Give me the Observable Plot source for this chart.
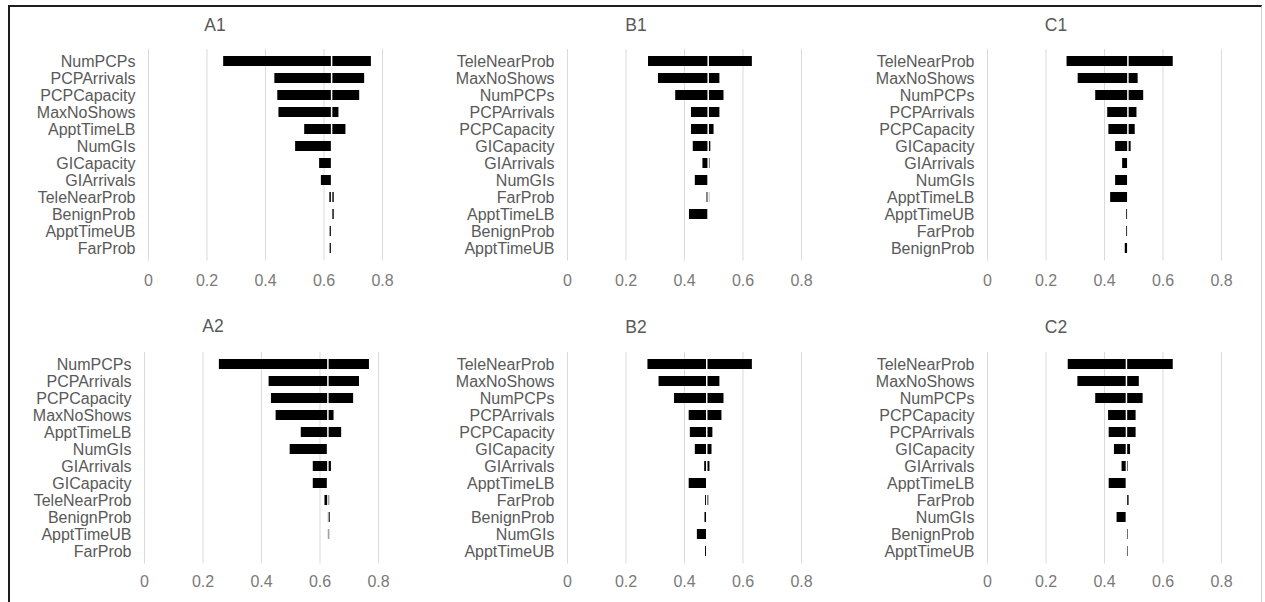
<!DOCTYPE html>
<html>
<head>
<meta charset="utf-8">
<script src="https://cdn.jsdelivr.net/npm/d3@7"></script>
<script src="https://cdn.jsdelivr.net/npm/@observablehq/plot@0.6"></script>
<style>
  html, body { margin: 0; padding: 0; background: #fff; }
  body { width: 1265px; height: 602px; position: relative; overflow: hidden; font-family: "Liberation Sans", Arial, sans-serif; }
  #frame { position: absolute; left: 8px; top: 5px; width: 1254px; height: 610px; border-left: 2px solid #1e1e1e; border-top: 2px solid #1e1e1e; border-right: 1px solid #cfcfcf; box-sizing: border-box; }
  .panel { position: absolute; }
  .title { position: absolute; width: 120px; text-align: center; font-size: 17.5px; line-height: 17px; color: #595959; }
</style>
</head>
<body>
<div id="frame"></div>
<script>
// ---- Data ----
const xTicks = [0, 0.2, 0.4, 0.6, 0.8];
const xTickLabels = ["0", "0.2", "0.4", "0.6", "0.8"];

const a1Title = "A1";
const a1Cats = ["NumPCPs", "PCPArrivals", "PCPCapacity", "MaxNoShows", "ApptTimeLB", "NumGIs", "GICapacity", "GIArrivals", "TeleNearProb", "BenignProb", "ApptTimeUB", "FarProb"];
const a1Low  = [0.257, 0.432, 0.442, 0.446, 0.534, 0.503, 0.585, 0.591, 0.620, 0.626, 0.621, 0.621];
const a1High = [0.762, 0.739, 0.722, 0.651, 0.675, 0.626, 0.626, 0.626, 0.635, 0.635, 0.628, 0.628];
const a1Base = 0.626;

const b1Title = "B1";
const b1Cats = ["TeleNearProb", "MaxNoShows", "NumPCPs", "PCPArrivals", "PCPCapacity", "GICapacity", "GIArrivals", "NumGIs", "FarProb", "ApptTimeLB", "BenignProb", "ApptTimeUB"];
const b1Low  = [0.277, 0.311, 0.370, 0.424, 0.424, 0.430, 0.463, 0.437, 0.477, 0.417, 0.481, 0.481];
const b1High = [0.632, 0.521, 0.535, 0.521, 0.501, 0.490, 0.487, 0.481, 0.486, 0.481, 0.481, 0.481];
const b1Base = 0.481;

const c1Title = "C1";
const c1Cats = ["TeleNearProb", "MaxNoShows", "NumPCPs", "PCPArrivals", "PCPCapacity", "GICapacity", "GIArrivals", "NumGIs", "ApptTimeLB", "ApptTimeUB", "FarProb", "BenignProb"];
const c1Low  = [0.272, 0.310, 0.370, 0.411, 0.415, 0.438, 0.462, 0.438, 0.421, 0.476, 0.476, 0.471];
const c1High = [0.635, 0.515, 0.534, 0.511, 0.505, 0.491, 0.480, 0.480, 0.480, 0.480, 0.480, 0.480];
const c1Base = 0.480;

const a2Title = "A2";
const a2Cats = ["NumPCPs", "PCPArrivals", "PCPCapacity", "MaxNoShows", "ApptTimeLB", "NumGIs", "GIArrivals", "GICapacity", "TeleNearProb", "BenignProb", "ApptTimeUB", "FarProb"];
const a2Low  = [0.256, 0.426, 0.434, 0.450, 0.536, 0.498, 0.577, 0.577, 0.617, 0.627, 0.627, 0.627];
const a2High = [0.769, 0.735, 0.715, 0.648, 0.674, 0.625, 0.639, 0.625, 0.633, 0.635, 0.633, 0.627];
const a2Base = 0.627;

const b2Title = "B2";
const b2Cats = ["TeleNearProb", "MaxNoShows", "NumPCPs", "PCPArrivals", "PCPCapacity", "GICapacity", "GIArrivals", "ApptTimeLB", "FarProb", "BenignProb", "NumGIs", "ApptTimeUB"];
const b2Low  = [0.275, 0.313, 0.366, 0.416, 0.420, 0.437, 0.469, 0.416, 0.472, 0.470, 0.444, 0.472];
const b2High = [0.632, 0.521, 0.535, 0.528, 0.497, 0.494, 0.487, 0.476, 0.483, 0.476, 0.476, 0.476];
const b2Base = 0.476;

const c2Title = "C2";
const c2Cats = ["TeleNearProb", "MaxNoShows", "NumPCPs", "PCPCapacity", "PCPArrivals", "GICapacity", "GIArrivals", "ApptTimeLB", "FarProb", "NumGIs", "BenignProb", "ApptTimeUB"];
const c2Low  = [0.276, 0.309, 0.370, 0.414, 0.416, 0.434, 0.460, 0.416, 0.475, 0.443, 0.475, 0.475];
const c2High = [0.635, 0.519, 0.532, 0.508, 0.508, 0.489, 0.481, 0.475, 0.484, 0.475, 0.481, 0.481];
const c2Base = 0.475;

// ---- Layout (positions only) ----
const panels = [
  {title: a1Title, cats: a1Cats, low: a1Low, high: a1High, base: a1Base, x0: 148.3, top: 0,   mTop: 49, mBottom: 40, tickPad: 14, titleX: 215, titleY: 16.5},
  {title: b1Title, cats: b1Cats, low: b1Low, high: b1High, base: b1Base, x0: 567.3, top: 0,   mTop: 49, mBottom: 40, tickPad: 14, titleX: 636, titleY: 16.5},
  {title: c1Title, cats: c1Cats, low: c1Low, high: c1High, base: c1Base, x0: 987,   top: 0,   mTop: 49, mBottom: 40, tickPad: 14, titleX: 1056, titleY: 16.5},
  {title: a2Title, cats: a2Cats, low: a2Low, high: a2High, base: a2Base, x0: 144.3, top: 300, mTop: 52, mBottom: 38, tickPad: 12, titleX: 213, titleY: 318},
  {title: b2Title, cats: b2Cats, low: b2Low, high: b2High, base: b2Base, x0: 567.3, top: 300, mTop: 52, mBottom: 38, tickPad: 12, titleX: 636, titleY: 318.5},
  {title: c2Title, cats: c2Cats, low: c2Low, high: c2High, base: c2Base, x0: 987,   top: 300, mTop: 52, mBottom: 38, tickPad: 12, titleX: 1056, titleY: 318.5}
];

const plotW = 234, plotH = 211.5, mLeft = 145, mRight = 30;
const font = "'Liberation Sans', Arial, sans-serif";

for (const p of panels) {
  const rows = p.cats.map((c, i) => ({cat: c, low: p.low[i], high: p.high[i]}));
  const chart = Plot.plot({
    width: mLeft + plotW + mRight,
    height: p.mTop + plotH + p.mBottom,
    marginLeft: mLeft,
    marginRight: mRight,
    marginTop: p.mTop,
    marginBottom: p.mBottom,
    style: {fontFamily: font, fontSize: "16px", color: "#595959", background: "transparent"},
    x: {domain: [0, 0.8], label: null},
    y: {domain: p.cats, paddingInner: 0.43, paddingOuter: 0.215, label: null},
    marks: [
      Plot.gridX(xTicks, {stroke: "#d9d9d9", strokeOpacity: 1, strokeWidth: 1}),
      Plot.barX(rows, {x1: "low", x2: "high", y: "cat", fill: "#000"}),
      Plot.ruleX([p.base], {stroke: "#fff", strokeWidth: 1.5}),
      Plot.axisX({ticks: xTicks, tickFormat: (d) => xTickLabels[xTicks.indexOf(d)], tickSize: 0, tickPadding: p.tickPad, fill: "#7a7a7a", fontSize: 16, label: null}),
      Plot.axisY({tickSize: 0, tickPadding: 13, fill: "#595959", fontSize: 16, label: null})
    ]
  });
  const wrap = document.createElement("div");
  wrap.className = "panel";
  wrap.style.left = (p.x0 - mLeft) + "px";
  wrap.style.top = p.top + "px";
  wrap.appendChild(chart);
  document.body.appendChild(wrap);

  const t = document.createElement("div");
  t.className = "title";
  t.textContent = p.title;
  t.style.left = (p.titleX - 60) + "px";
  t.style.top = p.titleY + "px";
  document.body.appendChild(t);
}
</script>
</body>
</html>
